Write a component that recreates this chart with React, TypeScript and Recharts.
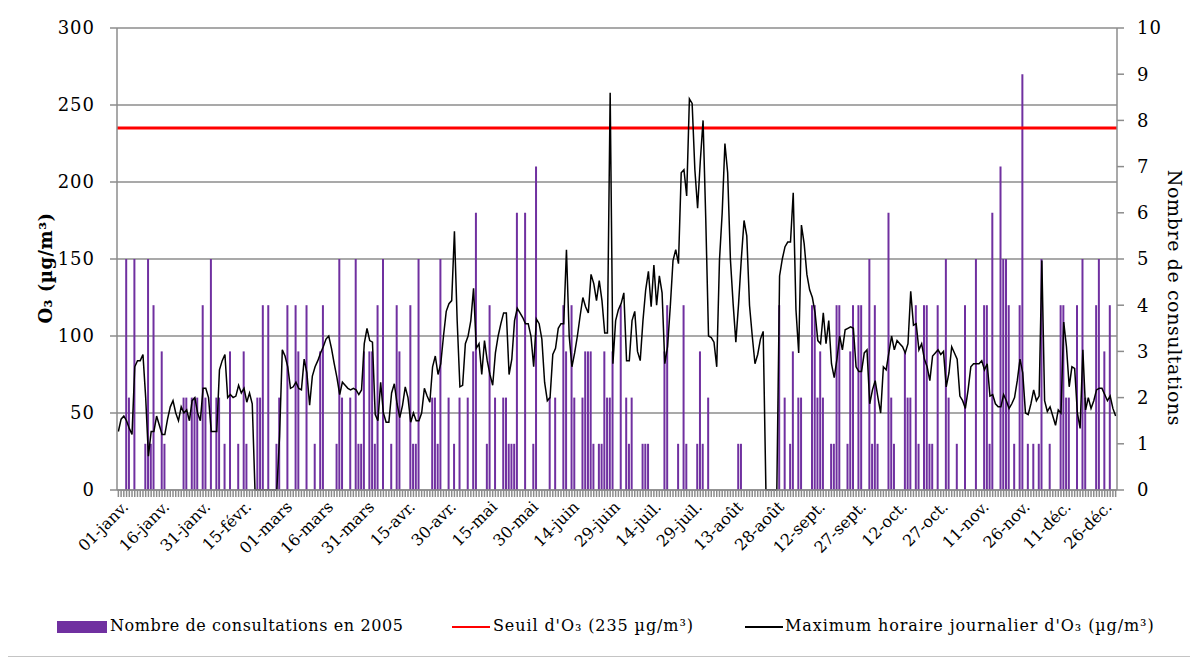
import React from 'react';
import { ComposedChart, Bar, Line, XAxis, YAxis, CartesianGrid, ReferenceLine } from 'recharts';

const monthNames = ['janv.', 'févr.', 'mars', 'avr.', 'mai', 'juin', 'juil.', 'août', 'sept.', 'oct.', 'nov.', 'déc.'];
const monthLengths = [31, 29, 31, 30, 31, 30, 31, 31, 30, 31, 30, 31];
const categories: string[] = monthLengths.flatMap((n, m) =>
  Array.from({ length: n }, (_, d) => `${String(d + 1).padStart(2, '0')}-${monthNames[m]}`)
);

const tickLabels = ['01-janv.', '16-janv.', '31-janv.', '15-févr.', '01-mars', '16-mars', '31-mars', '15-avr.', '30-avr.', '15-mai', '30-mai', '14-juin', '29-juin', '14-juil.', '29-juil.', '13-août', '28-août', '12-sept.', '27-sept.', '12-oct.', '27-oct.', '11-nov.', '26-nov.', '11-déc.', '26-déc.'];

const consultations = [
  0, 0, 0, 5, 2, 0, 5, 0, 0, 0,
  1, 5, 1, 4, 0, 0, 3, 1, 0, 0,
  0, 0, 0, 0, 2, 2, 0, 2, 2, 2,
  0, 4, 2, 0, 5, 0, 2, 2, 0, 1,
  0, 3, 0, 0, 1, 0, 3, 1, 0, 0,
  0, 2, 2, 4, 0, 4, 0, 0, 1, 2,
  0, 0, 4, 0, 0, 4, 3, 0, 0, 4,
  0, 0, 1, 0, 3, 4, 0, 0, 0, 0,
  1, 5, 2, 0, 0, 2, 0, 5, 1, 1,
  3, 0, 3, 3, 1, 4, 0, 5, 0, 0,
  1, 0, 4, 3, 0, 0, 0, 4, 1, 1,
  5, 0, 0, 0, 0, 2, 2, 1, 5, 0,
  0, 2, 0, 1, 0, 2, 0, 0, 2, 0,
  3, 6, 0, 0, 0, 1, 4, 0, 2, 0,
  0, 2, 2, 1, 1, 1, 6, 0, 0, 6,
  0, 0, 1, 7, 0, 0, 0, 0, 2, 0,
  2, 0, 0, 4, 3, 0, 4, 2, 0, 0,
  2, 3, 3, 3, 1, 0, 1, 1, 3, 2,
  2, 3, 0, 0, 4, 0, 2, 1, 2, 0,
  0, 0, 1, 1, 1, 0, 0, 0, 0, 0,
  3, 4, 0, 0, 0, 1, 0, 4, 1, 0,
  0, 0, 1, 3, 1, 0, 2, 0, 0, 0,
  0, 0, 0, 0, 0, 0, 0, 1, 1, 0,
  0, 0, 0, 0, 0, 0, 0, 0, 0, 0,
  0, 0, 4, 0, 2, 0, 1, 3, 0, 2,
  2, 0, 0, 0, 4, 4, 2, 3, 2, 0,
  0, 1, 1, 4, 4, 0, 0, 1, 3, 4,
  0, 4, 4, 0, 0, 5, 1, 4, 1, 0,
  0, 0, 6, 2, 1, 0, 0, 0, 3, 2,
  2, 0, 4, 1, 0, 4, 4, 1, 1, 0,
  4, 0, 0, 5, 2, 0, 0, 1, 0, 0,
  4, 0, 0, 0, 5, 0, 0, 4, 4, 1,
  6, 0, 0, 7, 5, 5, 4, 0, 1, 0,
  4, 9, 0, 1, 0, 1, 0, 1, 5, 0,
  0, 1, 0, 0, 0, 4, 4, 2, 2, 0,
  0, 4, 0, 5, 2, 0, 0, 0, 4, 5,
  0, 3, 0, 4, 0, 0,
];

const ozoneMax = [
  38, 46, 48, 45, 40, 36, 80, 84, 84, 88, 60, 22, 38, 38, 48, 42, 36, 36, 46, 54, 58, 50, 45, 54, 50, 52, 45, 58, 60, 50, 45, 66, 66, 60, 38, 38, 38, 78, 84, 88, 60, 62, 60, 61, 68, 63, 66,
  57, 63, 56, 0, 0, 0, 0, 0, 0, 0, 0, 0, 35, 91, 87, 80, 66, 67, 70, 66, 65, 85, 76, 55, 74, 80, 84, 89, 93, 98, 100, 92, 82, 73, 62, 70, 68, 66, 65, 66, 65, 62,
  65, 95, 105, 97, 96, 49, 45, 70, 50, 44, 44, 63, 69, 56, 47, 55, 67, 60, 44, 50, 45, 45, 50, 66, 61, 57, 80, 87, 75, 82, 100, 116, 121, 123, 168, 110, 67, 68, 95, 100, 110, 131, 92, 95, 75,
  97, 84, 75, 68, 89, 100, 108, 115, 115, 75, 85, 110, 118, 115, 112, 108, 108, 100, 80, 111, 108, 98, 70, 58, 60, 88, 92, 105, 108, 108, 156, 100, 80, 89, 100, 113, 125, 119, 115, 140, 134, 123, 136, 123, 102, 102, 258,
  82, 110, 117, 121, 128, 84, 84, 110, 116, 90, 84, 110, 130, 142, 119, 146, 120, 139, 128, 82, 93, 119, 149, 156, 147, 206, 208, 191, 254, 251, 208, 183, 214, 240, 175, 100, 99, 96, 80, 149, 180, 225, 206, 150,
  121, 96, 121, 150, 175, 165, 120, 100, 82, 88, 98, 103, 0, 0, 0, 0, 0, 139, 150, 158, 161, 161, 193, 117, 89, 172, 160, 140, 130, 125, 115, 97, 95, 115, 95, 110, 82, 73, 85, 100, 91, 104, 105, 106, 105, 80,
  77, 77, 89, 91, 56, 65, 71, 60, 50, 80, 78, 89, 100, 91, 97, 95, 93, 89, 95, 129, 107, 108, 91, 95, 85, 80, 71, 87, 89, 91, 88, 90, 67, 76, 93, 89, 85, 61, 58, 53, 65, 80, 82, 82, 82, 84,
  78, 82, 61, 62, 56, 54, 54, 62, 58, 53, 56, 60, 71, 85, 76, 50, 49, 56, 65, 58, 61, 149, 58, 51, 54, 48, 42, 52, 50, 109, 93, 67, 80, 79, 50, 40, 91, 52, 60, 53, 58, 65, 66, 66, 62, 58, 61, 53, 48,
];

const threshold = 235;
const leftTicks = [0, 50, 100, 150, 200, 250, 300];
const rightTicks = [0, 1, 2, 3, 4, 5, 6, 7, 8, 9, 10];

const data = categories.map((day, i) => ({ day, consult: consultations[i], o3: ozoneMax[i] }));

const FONT = "'DejaVu Serif', serif";
const GRID = '#8c8c8c';

function XTick(props: any) {
  const { x, y, payload } = props;
  if (!tickLabels.includes(payload.value)) return null;
  const ax = x + 7;
  const ay = y + 5;
  return (
    <text
      x={ax}
      y={ay}
      transform={`rotate(-45 ${ax} ${ay})`}
      textAnchor="end"
      dy="0.35em"
      fontSize={16}
      fontFamily={FONT}
      fill="#000"
    >
      {payload.value}
    </text>
  );
}

const legendText: React.CSSProperties = {
  position: 'absolute',
  top: 611,
  fontSize: 16,
  lineHeight: '20px',
  letterSpacing: 0.6,
  whiteSpace: 'nowrap',
  color: '#000',
};

export default function App() {
  return (
    <div
      style={{
        position: 'relative',
        width: 1184,
        height: 653,
        marginLeft: -1,
        marginTop: -4,
        border: '1px solid #c4c4c4',
        boxSizing: 'border-box',
        background: '#fff',
        fontFamily: FONT,
      }}
    >
      <ComposedChart
        width={1180}
        height={640}
        data={data}
        margin={{ top: 23, right: 26, left: 50, bottom: 55 }}
        barCategoryGap={0}
      >
        <CartesianGrid yAxisId="left" vertical={false} stroke={GRID} strokeWidth={1.5} />
        <XAxis
          dataKey="day"
          interval={0}
          height={100}
          tick={<XTick />}
          tickSize={7}
          tickLine={{ stroke: GRID, strokeWidth: 1.5 }}
          axisLine={{ stroke: GRID, strokeWidth: 1.5 }}
        />
        <YAxis
          yAxisId="left"
          orientation="left"
          domain={[0, 300]}
          ticks={leftTicks}
          interval={0}
          width={59}
          tickSize={7}
          tickMargin={15}
          tick={{ fontSize: 18, fill: '#000', fontFamily: FONT, letterSpacing: 1 }}
          tickLine={{ stroke: GRID, strokeWidth: 1.5 }}
          axisLine={{ stroke: GRID, strokeWidth: 1.5 }}
        />
        <YAxis
          yAxisId="right"
          orientation="right"
          domain={[0, 10]}
          ticks={rightTicks}
          interval={0}
          width={45}
          tickSize={7}
          tickMargin={13}
          tick={{ fontSize: 18, fill: '#000', fontFamily: FONT, letterSpacing: 1 }}
          tickLine={{ stroke: GRID, strokeWidth: 1.5 }}
          axisLine={{ stroke: GRID, strokeWidth: 1.5 }}
        />
        <Bar yAxisId="right" dataKey="consult" fill="#7030A0" barSize={2} isAnimationActive={false} />
        <ReferenceLine yAxisId="left" y={threshold} stroke="#FF0000" strokeWidth={3} />
        <Line
          yAxisId="left"
          type="linear"
          dataKey="o3"
          stroke="#000"
          strokeWidth={1.5}
          dot={false}
          isAnimationActive={false}
        />
      </ComposedChart>

      <div
        style={{
          position: 'absolute',
          left: 37,
          top: 263,
          transform: 'translate(-50%, -50%) rotate(-90deg)',
          whiteSpace: 'nowrap',
          fontWeight: 'bold',
          fontSize: 18,
          letterSpacing: 0.5,
          color: '#000',
        }}
      >
        O₃ (µg/m³)
      </div>
      <div
        style={{
          position: 'absolute',
          left: 1167,
          top: 293,
          transform: 'translate(-50%, -50%) rotate(90deg)',
          whiteSpace: 'nowrap',
          fontSize: 19,
          letterSpacing: 0.6,
          color: '#000',
        }}
      >
        Nombre de consultations
      </div>

      <div style={{ position: 'absolute', left: 49, top: 616, width: 50, height: 12, background: '#7030A0' }} />
      <div style={{ ...legendText, left: 102 }}>Nombre de consultations en 2005</div>
      <div style={{ position: 'absolute', left: 444, top: 621, width: 38, height: 2, background: '#FF0000' }} />
      <div style={{ ...legendText, left: 485, letterSpacing: 0.9 }}>Seuil d'O₃ (235 µg/m³)</div>
      <div style={{ position: 'absolute', left: 737, top: 621, width: 38, height: 2, background: '#000' }} />
      <div style={{ ...legendText, left: 777, letterSpacing: 0.9 }}>Maximum horaire journalier d'O₃ (µg/m³)</div>
    </div>
  );
}
